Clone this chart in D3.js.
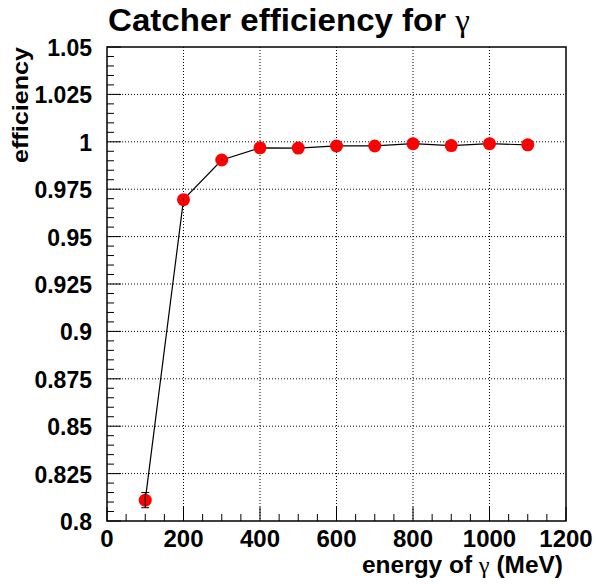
<!DOCTYPE html>
<html><head><meta charset="utf-8">
<script src="https://cdn.jsdelivr.net/npm/d3@7"></script>
<style>body{margin:0;background:#fff}svg{display:block}text{font-family:"Liberation Sans",Arial,sans-serif;font-weight:bold}</style>
</head><body>
<script>
const energies = [100,200,300,400,500,600,700,800,900,1000,1100];
const efficiency = [0.811,0.9695,0.9904,0.9968,0.9967,0.9978,0.9978,0.999,0.998,0.999,0.9984];
const errors = [0.004,0.0008,0.0005,0.0003,0.0003,0.0002,0.0002,0.0002,0.0002,0.0002,0.0002];
const xTicks = [0,200,400,600,800,1000,1200];
const yTicks = [0.8,0.825,0.85,0.875,0.9,0.925,0.95,0.975,1,1.025,1.05];
const yTickLabels = ["0.8","0.825","0.85","0.875","0.9","0.925","0.95","0.975","1","1.025","1.05"];

const W=596,H=584, L=107,R=566,T=47,B=521;
const svg=d3.select("body").append("svg").attr("width",W).attr("height",H);
const x=d3.scaleLinear().domain([0,1200]).range([L,R]);
const y=d3.scaleLinear().domain([0.8,1.05]).range([B,T]);

// grid
const g=svg.append("g");
g.selectAll("line.gx").data(xTicks.slice(1,-1)).join("line")
 .attr("x1",d=>x(d)).attr("x2",d=>x(d)).attr("y1",T).attr("y2",B)
 .attr("stroke","#000").attr("stroke-width",1).attr("stroke-dasharray","1,2");
g.selectAll("line.gy").data(yTicks.slice(1,-1)).join("line")
 .attr("y1",d=>y(d)).attr("y2",d=>y(d)).attr("x1",L).attr("x2",R)
 .attr("stroke","#000").attr("stroke-width",1).attr("stroke-dasharray","1,2");

// minor ticks
const xMinor=d3.range(0,1201,50);
svg.append("g").selectAll("line").data(xMinor).join("line")
 .attr("x1",d=>x(d)).attr("x2",d=>x(d)).attr("y1",B).attr("y2",d=>d%200===0?B-14:B-7)
 .attr("stroke","#000");
const yMinor=d3.range(0,51).map(i=>0.8+i*0.005);
svg.append("g").selectAll("line").data(yMinor).join("line")
 .attr("y1",d=>y(d)).attr("y2",d=>y(d)).attr("x1",L).attr("x2",(d,i)=>i%5===0?L+14:L+7)
 .attr("stroke","#000");

// frame
svg.append("rect").attr("x",L).attr("y",T).attr("width",R-L).attr("height",B-T)
 .attr("fill","none").attr("stroke","#000").attr("stroke-width",1.5);

// tick labels
svg.append("g").selectAll("text").data(xTicks).join("text")
 .attr("x",d=>x(d)).attr("y",547).attr("text-anchor","middle").attr("font-size",24).text(d=>d);
svg.append("g").selectAll("text").data(yTicks).join("text")
 .attr("x",L-15).attr("y",d=>y(d)+9).attr("text-anchor","end").attr("font-size",23)
 .text((d,i)=>yTickLabels[i]);

// titles
const gam = s=>s.append("tspan").attr("font-family","'Liberation Serif',serif").attr("font-weight","normal").text("γ");
const t1=svg.append("text").attr("x",108).attr("y",31).attr("font-size",32)
 .attr("textLength",362).attr("lengthAdjust","spacingAndGlyphs");
t1.append("tspan").text("Catcher efficiency for "); gam(t1);
const t2=svg.append("text").attr("x",362).attr("y",573).attr("font-size",23)
 .attr("textLength",201).attr("lengthAdjust","spacingAndGlyphs");
t2.append("tspan").text("energy of "); gam(t2); t2.append("tspan").text(" (MeV)");
svg.append("text").attr("transform","translate(28,163) rotate(-90)").attr("font-size",22)
 .attr("textLength",116).attr("lengthAdjust","spacingAndGlyphs").text("efficiency");

// line
const pts=energies.map((e,i)=>[e,efficiency[i],errors[i]]);
svg.append("path").datum(pts).attr("fill","none").attr("stroke","#000").attr("stroke-width",1.2)
 .attr("d",d3.line().x(d=>x(d[0])).y(d=>y(d[1])));
// error bars
const eb=svg.append("g").attr("stroke","#000").attr("stroke-width",1);
pts.forEach(d=>{
  eb.append("line").attr("x1",x(d[0])).attr("x2",x(d[0])).attr("y1",y(d[1]-d[2])).attr("y2",y(d[1]+d[2]));
  if(d[2]>0.002){
    eb.append("line").attr("x1",x(d[0])-4).attr("x2",x(d[0])+4).attr("y1",y(d[1]-d[2])).attr("y2",y(d[1]-d[2]));
    eb.append("line").attr("x1",x(d[0])-4).attr("x2",x(d[0])+4).attr("y1",y(d[1]+d[2])).attr("y2",y(d[1]+d[2]));
  }
});
svg.append("g").selectAll("circle").data(pts).join("circle")
 .attr("cx",d=>x(d[0])).attr("cy",d=>y(d[1])).attr("r",6.5).attr("fill","#ff0000");
eb.raise();
</script>
</body></html>
